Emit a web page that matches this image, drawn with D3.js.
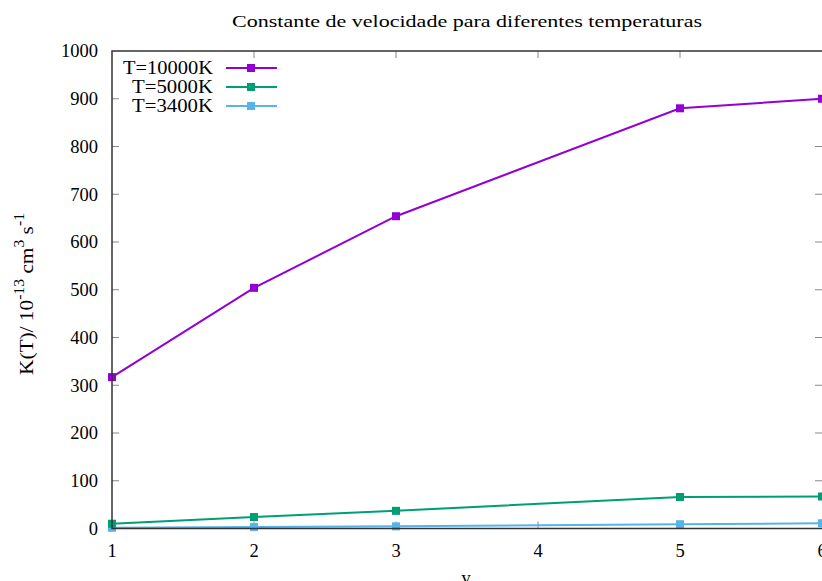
<!DOCTYPE html>
<html>
<head>
<meta charset="utf-8">
<script src="https://cdn.jsdelivr.net/npm/d3@7"></script>
<style>
  body { margin: 0; background: #fff; }
  text { font-family: "Liberation Serif", "DejaVu Serif", serif; fill: #000; }
</style>
</head>
<body>
<script>
// data
const vValues = [1, 2, 3, 5, 6];
const k10000 = [317, 504, 654, 880, 900];
const k5000 = [10, 24, 37, 66, 67];
const k3400 = [1.5, 3, 4.5, 9, 11];
const seriesNames = ["T=10000K", "T=5000K", "T=3400K"];
const seriesColors = ["#9400d3", "#009e73", "#56b4e9"];
const xTicks = [1, 2, 3, 4, 5, 6];
const yTicks = [0, 100, 200, 300, 400, 500, 600, 700, 800, 900, 1000];

const width = 822, height = 581;
const plotL = 112, plotR = 822, plotT = 51, plotB = 528.5;

const svg = d3.select("body").append("svg")
  .attr("width", width)
  .attr("height", height);

const x = d3.scaleLinear().domain([1, 6]).range([plotL, plotR]);
const y = d3.scaleLinear().domain([0, 1000]).range([plotB, plotT]);

// ticks (inside, mirrored)
const tickLen = 7;
svg.append("g").selectAll("line")
  .data(yTicks.slice(1, -1))
  .enter().append("line")
  .attr("x1", plotL).attr("x2", plotL + tickLen)
  .attr("y1", d => y(d)).attr("y2", d => y(d))
  .attr("stroke", "#888").attr("stroke-width", 1);
svg.append("g").selectAll("line")
  .data(yTicks.slice(1, -1))
  .enter().append("line")
  .attr("x1", plotR - tickLen).attr("x2", plotR)
  .attr("y1", d => y(d)).attr("y2", d => y(d))
  .attr("stroke", "#888").attr("stroke-width", 1);
svg.append("g").selectAll("line")
  .data(xTicks.slice(1, -1))
  .enter().append("line")
  .attr("x1", d => x(d)).attr("x2", d => x(d))
  .attr("y1", plotB).attr("y2", plotB - tickLen)
  .attr("stroke", "#888").attr("stroke-width", 1);
svg.append("g").selectAll("line")
  .data(xTicks.slice(1, -1))
  .enter().append("line")
  .attr("x1", d => x(d)).attr("x2", d => x(d))
  .attr("y1", plotT).attr("y2", plotT + tickLen)
  .attr("stroke", "#888").attr("stroke-width", 1);

// tick labels
svg.append("g").selectAll("text")
  .data(yTicks)
  .enter().append("text")
  .attr("x", plotL - 14)
  .attr("y", d => y(d))
  .attr("dy", "0.35em")
  .attr("text-anchor", "end")
  .attr("font-size", 18.5)
  .text(d => d);
svg.append("g").selectAll("text")
  .data(xTicks)
  .enter().append("text")
  .attr("x", d => x(d))
  .attr("y", plotB + 28)
  .attr("text-anchor", "middle")
  .attr("font-size", 18.5)
  .text(d => d);

// series
const seriesData = [k10000, k5000, k3400];
const line = d3.line().x((d, i) => x(vValues[i])).y(d => y(d));

// draw from back to front so purple sits on top
[2, 1, 0].forEach(s => {
  const g = svg.append("g");
  g.append("path")
    .datum(seriesData[s])
    .attr("d", line)
    .attr("fill", "none")
    .attr("stroke", seriesColors[s])
    .attr("stroke-width", 2);
  g.selectAll("rect")
    .data(seriesData[s])
    .enter().append("rect")
    .attr("x", (d, i) => x(vValues[i]) - 4)
    .attr("y", d => y(d) - 4)
    .attr("width", 8).attr("height", 8)
    .attr("fill", seriesColors[s]);
});

// frame
svg.append("path")
  .attr("d", `M${plotR},${plotT}H${plotL}V${plotB}H${plotR}`)
  .attr("fill", "none")
  .attr("stroke", "#333")
  .attr("stroke-width", 1.5);

// legend
const legendWidths = [90, 81, 81];
seriesNames.forEach((name, i) => {
  const ly = 68 + i * 19;
  svg.append("text")
    .attr("x", 213).attr("y", ly)
    .attr("dy", "0.35em")
    .attr("text-anchor", "end")
    .attr("font-size", 18.5)
    .attr("textLength", legendWidths[i])
    .attr("lengthAdjust", "spacingAndGlyphs")
    .text(name);
  svg.append("line")
    .attr("x1", 226).attr("x2", 277)
    .attr("y1", ly).attr("y2", ly)
    .attr("stroke", seriesColors[i]).attr("stroke-width", 2);
  svg.append("rect")
    .attr("x", 247).attr("y", ly - 4)
    .attr("width", 8).attr("height", 8)
    .attr("fill", seriesColors[i]);
});

// title
svg.append("text")
  .attr("x", 467).attr("y", 27)
  .attr("text-anchor", "middle")
  .attr("font-size", 17)
  .attr("textLength", 470)
  .attr("lengthAdjust", "spacingAndGlyphs")
  .text("Constante de velocidade para diferentes temperaturas");

// axis labels
svg.append("text")
  .attr("x", 466).attr("y", 584)
  .attr("text-anchor", "middle")
  .attr("font-size", 18.5)
  .text("v");

const yl = svg.append("text")
  .attr("transform", "translate(33,294) rotate(-90)")
  .attr("text-anchor", "middle")
  .attr("font-size", 19)
  .attr("textLength", 162)
  .attr("lengthAdjust", "spacingAndGlyphs");
yl.append("tspan").text("K(T)/ 10");
yl.append("tspan").attr("dy", -9).attr("font-size", 14).text("-13");
yl.append("tspan").attr("dy", 9).text(" cm");
yl.append("tspan").attr("dy", -9).attr("font-size", 14).text("3");
yl.append("tspan").attr("dy", 9).text(" s");
yl.append("tspan").attr("dy", -9).attr("font-size", 14).text("-1");
</script>
</body>
</html>
